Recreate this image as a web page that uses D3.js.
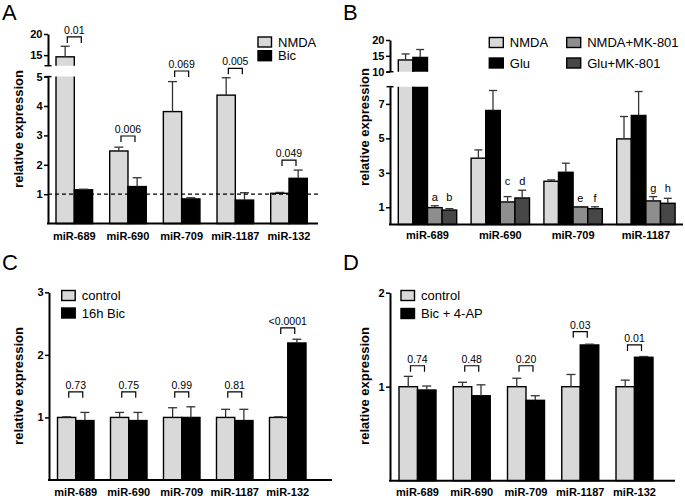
<!DOCTYPE html>
<html><head><meta charset="utf-8">
<script src="https://cdn.jsdelivr.net/npm/d3@7"></script>
<style>body{margin:0;background:#fff} svg{display:block;font-family:"Liberation Sans",Arial,Helvetica,sans-serif}</style>
</head><body><svg id="c" width="685" height="496"></svg>
<script>
// ---------- DATA ----------
// Panel A
const catsA = ["miR-689","miR-690","miR-709","miR-1187","miR-132"];
const nmdaA = [14.6, 2.47, 3.81, 4.37, 1.03];
const nmdaSemA = [2.5, 0.13, 1.02, 0.59, 0.03];
const bicA = [1.15, 1.26, 0.84, 0.80, 1.54];
const bicSemA = [0.02, 0.30, 0.04, 0.25, 0.28];
const pA = ["0.01","0.006","0.069","0.005","0.049"];
const pLevelA = [19.3, 2.98, 5.19, 5.28, 2.16];
const ticksLowerA = [1,2,3,4,5];
const ticksUpperA = [15,20];
// Panel B
const catsB = ["miR-689","miR-690","miR-709","miR-1187"];
const nmdaB = [13.7, 3.85, 2.51, 4.97];
const nmdaSemB = [1.9, 0.48, 0.08, 1.30];
const gluB = [14.5, 6.62, 3.03, 6.33];
const gluSemB = [2.5, 1.16, 0.53, 1.39];
const nmdaMkB = [0.98, 1.31, 1.02, 1.37];
const nmdaMkSemB = [0.11, 0.31, 0.02, 0.25];
const gluMkB = [0.84, 1.54, 0.92, 1.23];
const gluMkSemB = [0.08, 0.45, 0.11, 0.29];
const lettersNmdaMkB = ["a","c","e","g"];
const lettersGluMkB = ["b","d","f","h"];
const ticksLowerB = [1,3,5,7];
const ticksUpperB = [10,15,20];
// Panel C
const catsC = ["miR-689","miR-690","miR-709","miR-1187","miR-132"];
const ctrlC = [1.0, 1.0, 1.0, 1.0, 1.0];
const ctrlSemC = [0.01, 0.08, 0.155, 0.13, 0.01];
const bicC = [0.95, 0.95, 1.0, 0.95, 2.19];
const bicSemC = [0.13, 0.13, 0.17, 0.18, 0.06];
const pC = ["0.73","0.75","0.99","0.81","<0.0001"];
const pLevelC = [1.41, 1.41, 1.41, 1.41, 2.43];
const ticksC = [1,2,3];
// Panel D
const catsD = ["miR-689","miR-690","miR-709","miR-1187","miR-132"];
const ctrlD = [1.0, 1.0, 1.0, 1.0, 1.0];
const ctrlSemD = [0.11, 0.047, 0.09, 0.13, 0.07];
const bicD = [0.965, 0.904, 0.855, 1.444, 1.313];
const bicSemD = [0.042, 0.116, 0.049, 0.008, 0.008];
const pD = ["0.74","0.48","0.20","0.03","0.01"];
const pLevelD = [1.223, 1.223, 1.223, 1.585, 1.444];
const ticksD = [1,2];

// ---------- STYLE ----------
const LIGHT = "#d9d9d9", BLACK = "#000000", MID = "#8e8e8e", DARK = "#474747";
const svg = d3.select("#c");
const defs = svg.append("defs");
const fmt = d3.format("d");

function panel(o) {
  const g = svg.append("g");
  const x0 = d3.scaleBand().domain(o.cats).range(o.xRange).paddingInner(o.padIn);
  const x1 = d3.scaleBand().domain(o.series.map(s => s.name)).range([0, x0.bandwidth()]);
  const yL = d3.scaleLinear().domain(o.lower.domain).range(o.lower.range);
  const yU = o.upper ? d3.scaleLinear().domain(o.upper.domain).range(o.upper.range) : null;
  const inUpper = v => yU && v >= o.upper.domain[0];
  const yOf = v => inUpper(v) ? yU(v) : yL(v);

  if (yU) {
    defs.append("clipPath").attr("id", o.id + "L").append("rect")
      .attr("x", 0).attr("width", 685).attr("y", o.lower.range[1]).attr("height", o.lower.range[0] - o.lower.range[1] + 3);
    defs.append("clipPath").attr("id", o.id + "U").append("rect")
      .attr("x", 0).attr("width", 685).attr("y", o.upper.range[1] - 40).attr("height", o.upper.range[0] - o.upper.range[1] + 40);
  }

  const bars = g.append("g");
  o.series.forEach(s => {
    o.cats.forEach((c, i) => {
      const v = s.mean[i], e = s.sem[i];
      const bx = x0(c) + x1(s.name), bw = x1.bandwidth();
      const vv = Math.min(v, o.lower.domain[1] + 20);
      const lower = bars.append("rect")
        .attr("x", bx).attr("width", bw)
        .attr("y", yL(vv)).attr("height", yL(0) - yL(vv))
        .attr("fill", s.color).attr("stroke", "#000").attr("stroke-width", 1.4);
      if (yU) lower.attr("clip-path", `url(#${o.id}L)`);
      if (inUpper(v)) {
        bars.append("rect").attr("x", bx).attr("width", bw)
          .attr("y", yU(v)).attr("height", yU(0) - yU(v))
          .attr("fill", s.color).attr("stroke", "#000").attr("stroke-width", 1.4)
          .attr("clip-path", `url(#${o.id}U)`);
      }
      const cx = bx + bw / 2;
      const yTop = inUpper(v) ? yU(v + e) : yL(v + e);
      const yBase = yOf(v);
      bars.append("line").attr("x1", cx).attr("x2", cx).attr("y1", yBase).attr("y2", yTop)
        .attr("stroke", "#333").attr("stroke-width", 1.3);
      bars.append("line").attr("x1", cx - o.cap).attr("x2", cx + o.cap).attr("y1", yTop).attr("y2", yTop)
        .attr("stroke", "#333").attr("stroke-width", 1.3);
    });
  });

  if (o.dashAt != null) {
    g.append("line").attr("x1", o.axisX).attr("x2", o.xEnd).attr("y1", yL(o.dashAt)).attr("y2", yL(o.dashAt))
      .attr("stroke", "#000").attr("stroke-width", 1.2).attr("stroke-dasharray", "4,3");
  }

  const axL = g.append("g").attr("transform", `translate(${o.axisX},0)`)
    .call(d3.axisLeft(yL).tickValues(o.lower.ticks).tickFormat(fmt).tickSize(4).tickSizeOuter(0).tickPadding(1.5));
  axL.select(".domain").attr("stroke-width", 2);
  if (yU) {
    const axU = g.append("g").attr("transform", `translate(${o.axisX},0)`)
      .call(d3.axisLeft(yU).tickValues(o.upper.ticks).tickFormat(fmt).tickSize(4).tickSizeOuter(0).tickPadding(1.5));
    axU.select(".domain").attr("stroke-width", 2);
    [o.upper.range[0], o.lower.range[1]].forEach(yy => {
      g.append("line").attr("x1", o.axisX - 3.5).attr("x2", o.axisX + 3.5).attr("y1", yy).attr("y2", yy)
        .attr("stroke", "#000").attr("stroke-width", 1.5);
    });
  }
  g.selectAll(".tick line").attr("stroke-width", 1.5);
  g.selectAll(".tick text").attr("font-size", 11).attr("font-weight", "bold")
    .attr("font-family", '"Liberation Sans",Arial,sans-serif').attr("fill", "#000");

  g.append("line").attr("x1", o.axisX - 1).attr("x2", o.xEnd).attr("y1", yL(0)).attr("y2", yL(0))
    .attr("stroke", "#000").attr("stroke-width", 2);
  g.selectAll(".xl").data(o.cats).join("text").attr("class", "xl")
    .attr("x", c => x0(c) + x0.bandwidth() / 2).attr("y", o.xLabelY)
    .attr("text-anchor", "middle").attr("font-size", 11).attr("font-weight", "bold").text(c => c);

  g.append("text").attr("transform", `translate(${o.yLabel[0]},${o.yLabel[1]}) rotate(-90)`)
    .attr("text-anchor", "middle").attr("dominant-baseline", "middle")
    .attr("font-size", 13).attr("font-weight", "bold").text("relative expression");

  g.append("text").attr("x", o.letter[0]).attr("y", o.letter[1]).attr("font-size", 22).text(o.id);

  if (o.p) {
    o.cats.forEach((c, i) => {
      const cx = x0(c) + x0.bandwidth() / 2;
      const yy = yOf(o.pLevel[i]);
      g.append("path").attr("d", `M${cx - 7},${yy + 6}V${yy}H${cx + 7}V${yy + 6}`)
        .attr("fill", "none").attr("stroke", "#000").attr("stroke-width", 1.2);
      g.append("text").attr("x", cx).attr("y", yy - 3).attr("text-anchor", "middle")
        .attr("font-size", 10.5).attr("fill", "#000").text(o.p[i]);
    });
  }

  if (o.barLetters) {
    o.cats.forEach((c, i) => {
      const tops = o.barLetters.map(bl => { const s = o.series.find(q => q.name === bl.series); return yOf(s.mean[i] + s.sem[i]); });
      const yy = Math.min(...tops) - 5;
      o.barLetters.forEach(bl => {
        const cx = x0(c) + x1(bl.series) + x1.bandwidth() / 2;
        g.append("text").attr("x", cx).attr("y", yy).attr("text-anchor", "middle")
          .attr("font-size", 11).attr("fill", "#000").text(bl.labels[i]);
      });
    });
  }

  o.legend.items.forEach(it => {
    g.append("rect").attr("x", it.x).attr("y", it.y).attr("width", o.legend.w).attr("height", o.legend.h)
      .attr("fill", it.color).attr("stroke", "#000").attr("stroke-width", 1.4);
    g.append("text").attr("x", it.x + o.legend.w + 6.5).attr("y", it.y + o.legend.h / 2)
      .attr("dominant-baseline", "central").attr("font-size", 13).text(it.name);
  });
}

panel({
  id: "A", cats: catsA,
  series: [{name: "NMDA", color: LIGHT, mean: nmdaA, sem: nmdaSemA},
           {name: "Bic", color: BLACK, mean: bicA, sem: bicSemA}],
  xRange: [56, 307.3], padIn: 0.318, cap: 4.5,
  lower: {domain: [0, 5], range: [223.6, 76.6], ticks: ticksLowerA},
  upper: {domain: [12.5, 20], range: [65.7, 34], ticks: ticksUpperA},
  axisX: 48, xEnd: 318, xLabelY: 239.5, yLabel: [20, 129], letter: [2, 20], dashAt: 1,
  p: pA, pLevel: pLevelA,
  legend: {w: 13.5, h: 10, items: [{name: "NMDA", color: LIGHT, x: 258, y: 37}, {name: "Bic", color: BLACK, x: 258, y: 50.7}]}
});

panel({
  id: "B", cats: catsB,
  series: [{name: "NMDA", color: LIGHT, mean: nmdaB, sem: nmdaSemB},
           {name: "Glu", color: BLACK, mean: gluB, sem: gluSemB},
           {name: "NMDA+MK-801", color: MID, mean: nmdaMkB, sem: nmdaMkSemB},
           {name: "Glu+MK-801", color: DARK, mean: gluMkB, sem: gluMkSemB}],
  xRange: [398.3, 675.1], padIn: 0.198, cap: 4,
  lower: {domain: [0, 8], range: [224.5, 86.7], ticks: ticksLowerB},
  upper: {domain: [10, 20], range: [71.7, 40], ticks: ticksUpperB},
  axisX: 390, xEnd: 683, xLabelY: 239, yLabel: [366, 127], letter: [343, 20],
  barLetters: [{series: "NMDA+MK-801", labels: lettersNmdaMkB}, {series: "Glu+MK-801", labels: lettersGluMkB}],
  legend: {w: 14, h: 10, items: [
    {name: "NMDA", color: LIGHT, x: 489.3, y: 37.5}, {name: "Glu", color: BLACK, x: 489.3, y: 58},
    {name: "NMDA+MK-801", color: MID, x: 566.7, y: 37.5}, {name: "Glu+MK-801", color: DARK, x: 566.7, y: 58}]}
});

panel({
  id: "C", cats: catsC,
  series: [{name: "control", color: LIGHT, mean: ctrlC, sem: ctrlSemC},
           {name: "16h Bic", color: BLACK, mean: bicC, sem: bicSemC}],
  xRange: [57.5, 306], padIn: 0.311, cap: 4.5,
  lower: {domain: [0, 3], range: [480, 292.3], ticks: ticksC},
  axisX: 49, xEnd: 332, xLabelY: 495.5, yLabel: [20, 386], letter: [2, 270],
  p: pC, pLevel: pLevelC,
  legend: {w: 13.5, h: 10, items: [{name: "control", color: LIGHT, x: 61.7, y: 290.5}, {name: "16h Bic", color: BLACK, x: 61.7, y: 308}]}
});

panel({
  id: "D", cats: catsD,
  series: [{name: "control", color: LIGHT, mean: ctrlD, sem: ctrlSemD},
           {name: "Bic + 4-AP", color: BLACK, mean: bicD, sem: bicSemD}],
  xRange: [399, 653], padIn: 0.318, cap: 4.5,
  lower: {domain: [0, 2], range: [480.7, 292.7], ticks: ticksD},
  axisX: 390, xEnd: 675, xLabelY: 495.5, yLabel: [366, 386], letter: [343, 270],
  p: pD, pLevel: pLevelD,
  legend: {w: 13.5, h: 10, items: [{name: "control", color: LIGHT, x: 401, y: 290.5}, {name: "Bic + 4-AP", color: BLACK, x: 401, y: 308.5}]}
});
</script>
</body></html>
